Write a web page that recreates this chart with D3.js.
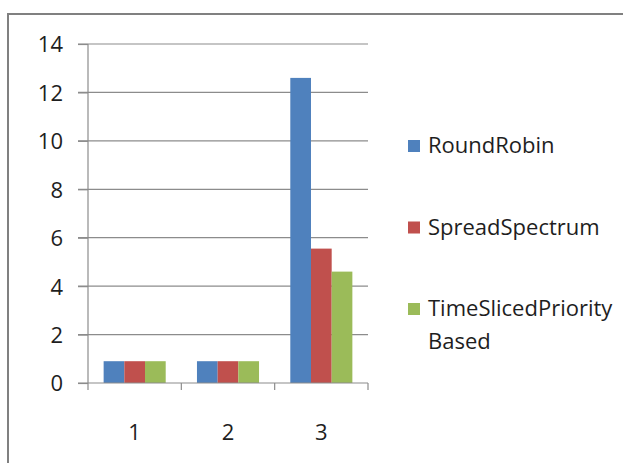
<!DOCTYPE html>
<html>
<head>
<meta charset="utf-8">
<script src="https://cdn.jsdelivr.net/npm/d3@7"></script>
<style>
  html, body { margin: 0; padding: 0; background: #fff; }
  svg { display: block; }
  text { font-family: "Open Sans", "DejaVu Sans", sans-serif; fill: #1e1e1e; }
</style>
</head>
<body>
<svg id="chart" width="623" height="463"></svg>
<script>
// Chart data
const categories = ["1", "2", "3"];
const seriesNames = ["RoundRobin", "SpreadSpectrum", "TimeSlicedPriority Based"];
const roundRobin = [0.9, 0.9, 12.6];
const spreadSpectrum = [0.9, 0.9, 5.55];
const timeSlicedPriority = [0.9, 0.9, 4.6];
const yTicks = [0, 2, 4, 6, 8, 10, 12, 14];

const seriesValues = [roundRobin, spreadSpectrum, timeSlicedPriority];
const colors = ["#4f81bd", "#c0504d", "#9bbb59"];

const svg = d3.select("#chart");

// outer frame
svg.append("rect")
  .attr("x", 8).attr("y", 14)
  .attr("width", 640).attr("height", 480)
  .attr("fill", "#fff")
  .attr("stroke", "#808080")
  .attr("stroke-width", 2);

const plot = { left: 88, right: 368, top: 44, bottom: 383 };

const y = d3.scaleLinear().domain([0, 14]).range([plot.bottom, plot.top]);
const x0 = d3.scaleBand().domain(categories).range([plot.left, plot.right]).padding(0);
const groupWidth = x0.bandwidth() * 0.665;
const x1 = d3.scaleBand().domain(d3.range(seriesNames.length)).range([0, groupWidth]).padding(0);

// gridlines
svg.append("g")
  .selectAll("line")
  .data(yTicks.filter(d => d > 0))
  .join("line")
  .attr("x1", plot.left - 10).attr("x2", plot.right)
  .attr("y1", d => y(d)).attr("y2", d => y(d))
  .attr("stroke", "#8c8c8c").attr("stroke-width", 1.2);

// y axis
const yAxis = svg.append("g")
  .attr("transform", `translate(${plot.left},0)`)
  .call(d3.axisLeft(y).tickValues(yTicks).tickSize(10).tickPadding(15));
yAxis.select(".domain").remove();
yAxis.selectAll(".tick line").attr("stroke", "#8c8c8c").attr("stroke-width", 1.2);
yAxis.selectAll(".tick text")
  .attr("font-size", 22)
  .attr("fill", "#1e1e1e")
  .attr("dy", "0.36em")
  .style("font-family", "'Open Sans', sans-serif");
svg.append("line")
  .attr("x1", plot.left).attr("x2", plot.left)
  .attr("y1", plot.top).attr("y2", plot.bottom + 7)
  .attr("stroke", "#8c8c8c").attr("stroke-width", 1.2);

// bars
const groups = svg.append("g")
  .selectAll("g")
  .data(categories)
  .join("g")
  .attr("transform", c => `translate(${x0(c) + (x0.bandwidth() - groupWidth) / 2},0)`);

groups.selectAll("rect")
  .data((c, i) => seriesValues.map((vals, s) => ({ s, v: vals[i] })))
  .join("rect")
  .attr("x", d => x1(d.s))
  .attr("width", x1.bandwidth())
  .attr("y", d => y(d.v))
  .attr("height", d => y(0) - y(d.v))
  .attr("fill", d => colors[d.s]);

// x axis
svg.append("line")
  .attr("x1", plot.left - 10).attr("x2", plot.right)
  .attr("y1", plot.bottom).attr("y2", plot.bottom)
  .attr("stroke", "#8c8c8c").attr("stroke-width", 1.2);
svg.append("g")
  .selectAll("line")
  .data(categories)
  .join("line")
  .attr("x1", c => x0(c) + x0.bandwidth()).attr("x2", c => x0(c) + x0.bandwidth())
  .attr("y1", plot.bottom).attr("y2", plot.bottom + 7)
  .attr("stroke", "#8c8c8c").attr("stroke-width", 1.2);
svg.append("g")
  .selectAll("text")
  .data(categories)
  .join("text")
  .attr("x", c => x0(c) + x0.bandwidth() / 2)
  .attr("y", 440)
  .attr("text-anchor", "middle")
  .attr("font-size", 22)
  .text(c => c);

// legend
const legendBaselines = [153, 234.5, 316];
const legend = svg.append("g")
  .selectAll("g")
  .data(seriesNames)
  .join("g");
legend.append("rect")
  .attr("x", 408)
  .attr("y", (d, i) => legendBaselines[i] - 13)
  .attr("width", 12).attr("height", 12)
  .attr("fill", (d, i) => colors[i]);
legend.append("text")
  .attr("x", 428)
  .attr("y", (d, i) => legendBaselines[i])
  .attr("font-size", 22)
  .each(function (d) {
    const words = d.split(" ");
    const t = d3.select(this);
    words.forEach((w, k) => {
      t.append("tspan")
        .attr("x", 428)
        .attr("dy", k === 0 ? 0 : 33)
        .text(w);
    });
  });
</script>
</body>
</html>
